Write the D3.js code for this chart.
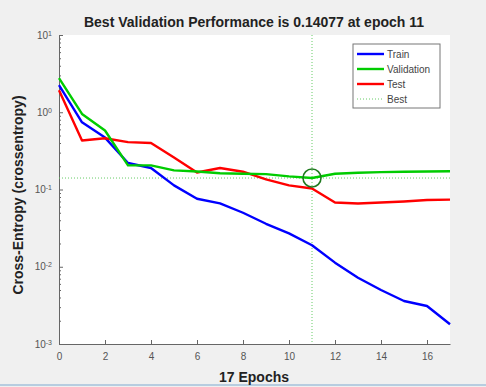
<!DOCTYPE html>
<html>
<head>
<meta charset="utf-8">
<script src="https://cdn.jsdelivr.net/npm/d3@7"></script>
<style>
  body { margin: 0; background: #f0f0f0; }
  svg { display: block; font-family: "Liberation Sans", Arial, sans-serif; }
</style>
</head>
<body>
<svg id="chart"></svg>
<script>
const epochs = d3.range(0, 18);
const train = [2.24, 0.74, 0.47, 0.22, 0.19, 0.113, 0.076, 0.066, 0.05, 0.036, 0.027, 0.019, 0.0113, 0.0072, 0.005, 0.0036, 0.0031, 0.0018];
const validation = [2.76, 0.95, 0.58, 0.205, 0.205, 0.177, 0.171, 0.162, 0.16, 0.158, 0.148, 0.14077, 0.16, 0.165, 0.168, 0.17, 0.171, 0.172];
const test = [1.93, 0.43, 0.46, 0.41, 0.4, 0.26, 0.166, 0.19, 0.17, 0.135, 0.113, 0.103, 0.068, 0.066, 0.068, 0.07, 0.073, 0.074];
const bestEpoch = 11;
const bestValue = 0.14077;
const xTicks = [0, 2, 4, 6, 8, 10, 12, 14, 16];
const yTicks = [1e-3, 1e-2, 1e-1, 1e0, 1e1];
const legendNames = ["Train", "Validation", "Test", "Best"];

const width = 486, height = 387;
const margin = {left: 59, right: 36, top: 35, bottom: 43};
const colors = {train: "#0000ff", validation: "#00cc00", test: "#ff0000"};

const svg = d3.select("#chart")
    .attr("width", width)
    .attr("height", height);

svg.append("rect")
    .attr("width", width)
    .attr("height", height)
    .attr("fill", "#f0f0f0");

// screenshot border at the bottom
svg.append("rect")
    .attr("x", 0).attr("y", 384)
    .attr("width", width).attr("height", 2)
    .attr("fill", "#b7cde0");

const x = d3.scaleLinear()
    .domain([0, 17])
    .range([margin.left, width - margin.right]);
const y = d3.scaleLog()
    .domain([1e-3, 1e1])
    .range([height - margin.bottom, margin.top]);

// plot area
svg.append("rect")
    .attr("x", x(0))
    .attr("y", y(1e1))
    .attr("width", x(17) - x(0))
    .attr("height", y(1e-3) - y(1e1))
    .attr("fill", "#ffffff");

// axes
const xAxis = d3.axisBottom(x)
    .tickValues(xTicks)
    .tickSize(-4)
    .tickPadding(9)
    .tickSizeOuter(0);
const gx = svg.append("g")
    .attr("transform", `translate(0,${y(1e-3)})`)
    .call(xAxis);

const minorTicks = [];
for (let e = -3; e < 1; e++) {
    for (let m = 2; m <= 9; m++) minorTicks.push(m * Math.pow(10, e));
}
const gyMinor = svg.append("g")
    .attr("transform", `translate(${x(0)},0)`)
    .call(d3.axisLeft(y).tickValues(minorTicks).tickSize(-2).tickFormat(""));
gyMinor.select(".domain").remove();

const yAxis = d3.axisLeft(y)
    .tickValues(yTicks)
    .tickSize(-4)
    .tickPadding(8)
    .tickSizeOuter(0)
    .tickFormat(() => "");
const gy = svg.append("g")
    .attr("transform", `translate(${x(0)},0)`)
    .call(yAxis);

gy.selectAll(".tick").each(function(d) {
    const t = d3.select(this).append("text")
        .attr("x", -7)
        .attr("dy", "0.32em")
        .attr("text-anchor", "end")
        .attr("fill", "#555")
        .attr("font-size", 10);
    t.append("tspan").text("10");
    t.append("tspan")
        .attr("dy", "-0.45em")
        .attr("font-size", 7)
        .text(String(Math.round(Math.log10(d))));
});

[gx, gy, gyMinor].forEach(g => {
    g.selectAll("line").attr("stroke", "#666");
    g.selectAll(".domain").attr("stroke", "#666");
});
gx.selectAll("text").attr("fill", "#555").attr("font-size", 10);

// best marker lines
svg.append("line")
    .attr("x1", x(bestEpoch)).attr("x2", x(bestEpoch))
    .attr("y1", y(1e1)).attr("y2", y(1e-3))
    .attr("stroke", "#66cc66")
    .attr("stroke-width", 1)
    .attr("stroke-dasharray", "1,2");
svg.append("line")
    .attr("x1", x(0)).attr("x2", x(17))
    .attr("y1", y(bestValue)).attr("y2", y(bestValue))
    .attr("stroke", "#66cc66")
    .attr("stroke-width", 1)
    .attr("stroke-dasharray", "1,2");

// series
const line = d3.line()
    .x((d, i) => x(epochs[i]))
    .y(d => y(d));
[["train", train], ["test", test], ["validation", validation]].forEach(([k, vals]) => {
    svg.append("path")
        .datum(vals)
        .attr("d", line)
        .attr("fill", "none")
        .attr("stroke", colors[k])
        .attr("stroke-width", 2.4)
        .attr("stroke-linejoin", "round");
});

svg.append("circle")
    .attr("cx", x(bestEpoch))
    .attr("cy", y(bestValue))
    .attr("r", 9)
    .attr("fill", "none")
    .attr("stroke", "#1f7a1f")
    .attr("stroke-width", 1.6);

// legend
const lg = svg.append("g").attr("transform", "translate(353,44)");
lg.append("rect")
    .attr("width", 87).attr("height", 64)
    .attr("fill", "#fff")
    .attr("stroke", "#777")
    .attr("stroke-width", 1);
const legendStyles = [
    {color: colors.train, dash: null, w: 2.4},
    {color: colors.validation, dash: null, w: 2.4},
    {color: colors.test, dash: null, w: 2.4},
    {color: "#66cc66", dash: "1,2", w: 1}
];
legendNames.forEach((name, i) => {
    const yy = 10 + i * 15;
    lg.append("line")
        .attr("x1", 4).attr("x2", 31)
        .attr("y1", yy).attr("y2", yy)
        .attr("stroke", legendStyles[i].color)
        .attr("stroke-width", legendStyles[i].w)
        .attr("stroke-dasharray", legendStyles[i].dash);
    lg.append("text")
        .attr("x", 34).attr("y", yy)
        .attr("dy", "0.35em")
        .attr("font-size", 10)
        .attr("fill", "#444")
        .text(name);
});

// titles
svg.append("text")
    .attr("x", 254).attr("y", 27)
    .attr("text-anchor", "middle")
    .attr("font-size", 14)
    .attr("font-weight", "bold")
    .attr("fill", "#222")
    .text("Best Validation Performance is 0.14077 at epoch 11");
svg.append("text")
    .attr("x", 254).attr("y", 382)
    .attr("text-anchor", "middle")
    .attr("font-size", 14)
    .attr("font-weight", "bold")
    .attr("fill", "#222")
    .text("17 Epochs");
svg.append("text")
    .attr("transform", "translate(23,195) rotate(-90)")
    .attr("text-anchor", "middle")
    .attr("font-size", 14)
    .attr("font-weight", "bold")
    .attr("fill", "#222")
    .text("Cross-Entropy  (crossentropy)");
</script>
</body>
</html>
